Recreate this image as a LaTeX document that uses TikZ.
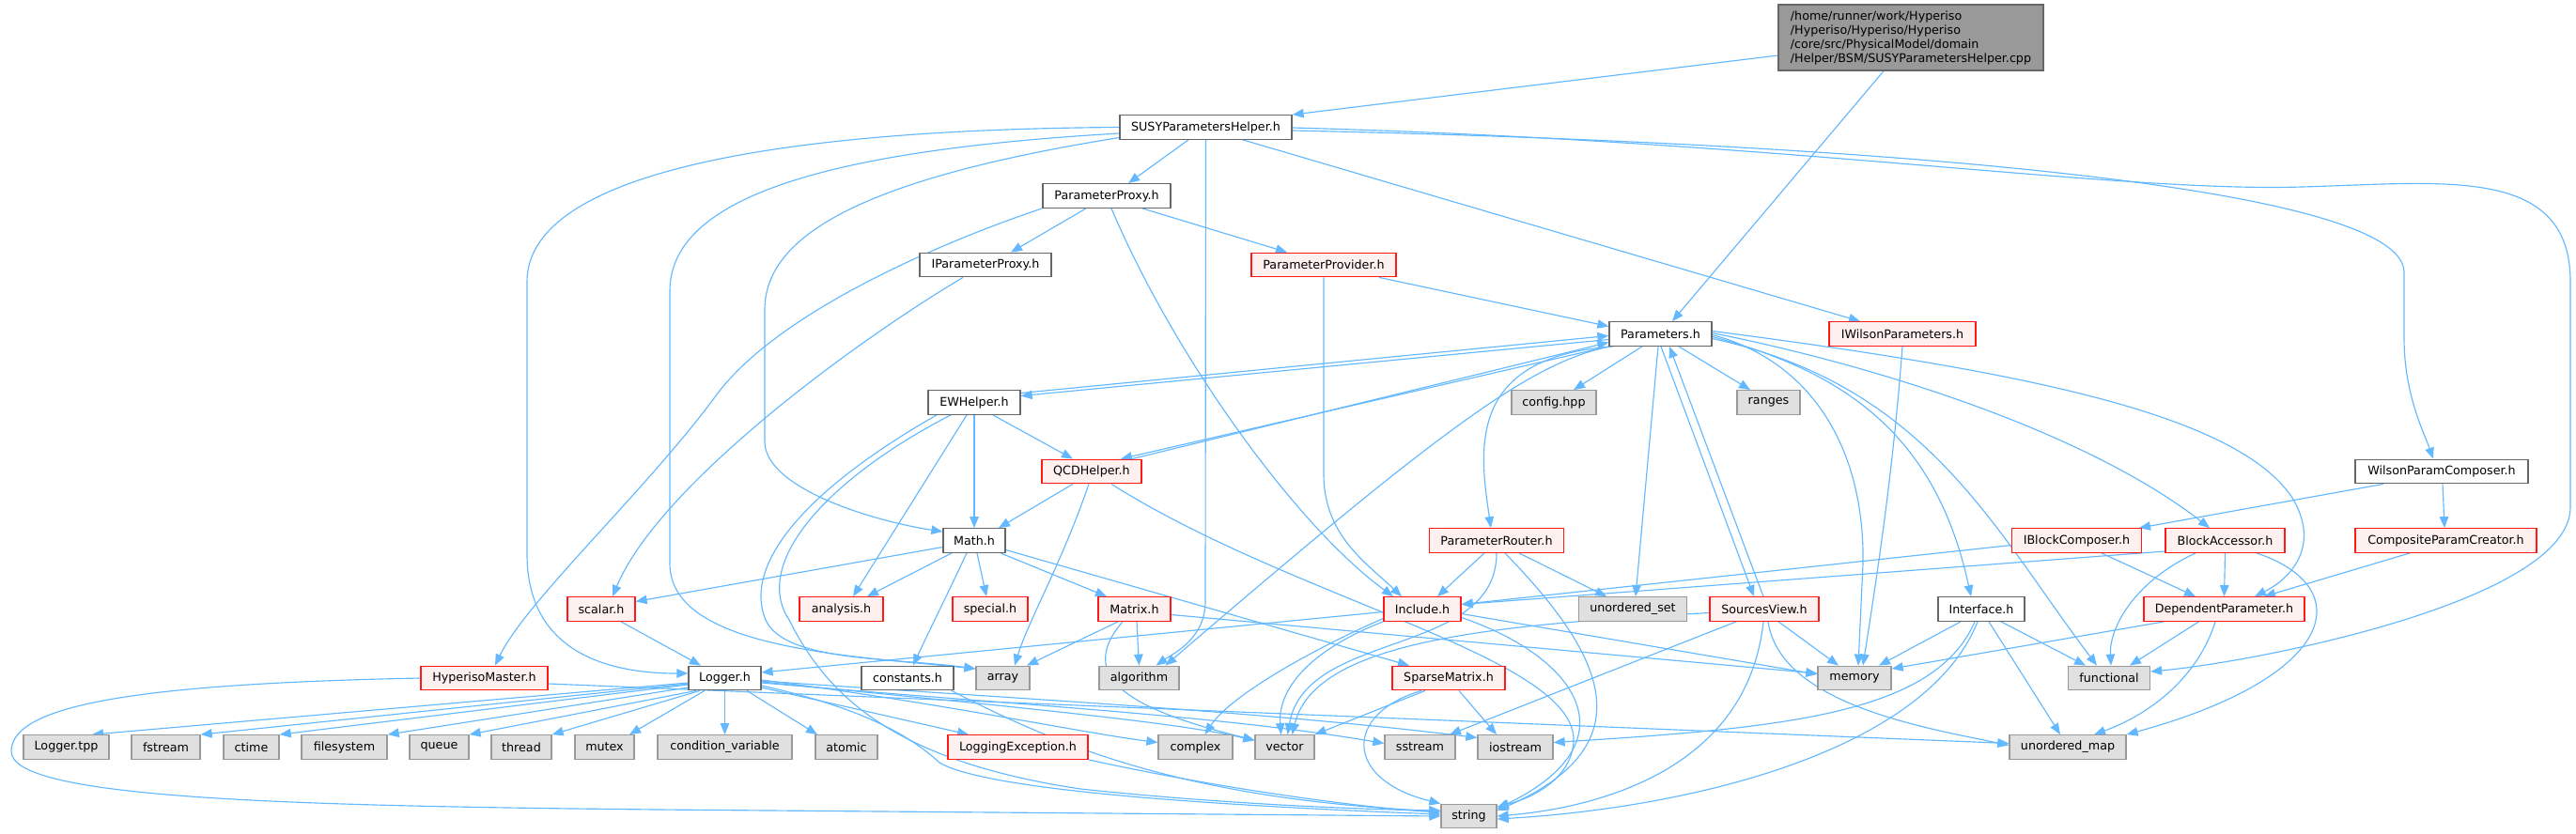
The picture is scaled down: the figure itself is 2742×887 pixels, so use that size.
\documentclass[tikz,border=0pt]{standalone}
\usepackage{fontspec}
\setmainfont{DejaVu Sans}
\usetikzlibrary{arrows.meta,backgrounds}
\definecolor{edgec}{HTML}{63B8FF}
\definecolor{ndraw}{HTML}{666666}
\definecolor{xdraw}{HTML}{999999}
\definecolor{xfill}{HTML}{E0E0E0}
\definecolor{rfill}{HTML}{FFF0F0}
\definecolor{rdraw}{HTML}{FF1A1A}
\definecolor{rootfill}{HTML}{999999}
\tikzset{
  base/.style={draw, line width=1.3pt, minimum height=25.5pt, inner sep=0pt, text=black,
    font=\fontsize{12.7pt}{15pt}\selectfont},
  nd/.style={base, fill=white, draw=ndraw},
  rd/.style={base, fill=rfill, draw=rdraw},
  ex/.style={base, fill=xfill, draw=xdraw},
  rootnode/.style={base, fill=rootfill, draw=ndraw},
  e/.style={draw=edgec, line width=1.15pt, -{Triangle[length=12pt,width=9.5pt]}}
}
\begin{document}
\begin{tikzpicture}[x=1pt,y=-1pt]
\useasboundingbox (0,0) rectangle (2742,887);
% nodes
\node[rootnode, minimum width=282pt, minimum height=70pt, align=left] (root) at (2034,40)
  {/home/runner/work/Hyperiso\\/Hyperiso/Hyperiso/Hyperiso\\/core/src/PhysicalModel/domain\\/Helper/BSM/SUSYParametersHelper.cpp};
\node[nd, minimum width=183pt] (susy) at (1283.5,135.5) {SUSYParametersHelper.h};
\node[nd, minimum width=136pt] (pproxy) at (1178,208.5) {ParameterProxy.h};
\node[nd, minimum width=140pt] (ipproxy) at (1049,282) {IParameterProxy.h};
\node[rd, minimum width=154pt] (pprov) at (1409,282) {ParameterProvider.h};
\node[nd, minimum width=109pt] (params) at (1767.5,355.5) {Parameters.h};
\node[rd, minimum width=156pt] (iwil) at (2025,355.5) {IWilsonParameters.h};
\node[ex, minimum width=90pt] (config) at (1654,428.5) {config.hpp};
\node[ex, minimum width=67pt] (ranges) at (1882.5,428.5) {ranges};
\node[nd, minimum width=98pt] (ewh) at (1037,428.5) {EWHelper.h};
\node[rd, minimum width=106pt] (qcd) at (1162,502) {QCDHelper.h};
\node[nd, minimum width=184pt] (wpc) at (2599,502) {WilsonParamComposer.h};
\node[nd, minimum width=66pt] (math) at (1037,575.5) {Math.h};
\node[rd, minimum width=143pt] (prouter) at (1593,575.5) {ParameterRouter.h};
\node[rd, minimum width=138pt] (ibc) at (2210.5,575.5) {IBlockComposer.h};
\node[rd, minimum width=127pt] (bacc) at (2368.5,575.5) {BlockAccessor.h};
\node[rd, minimum width=193pt] (cpc) at (2603.5,575.5) {CompositeParamCreator.h};
\node[rd, minimum width=72pt] (scalar) at (640,648.5) {scalar.h};
\node[rd, minimum width=89pt] (analysis) at (895.5,648.5) {analysis.h};
\node[rd, minimum width=80pt] (special) at (1054,648.5) {special.h};
\node[rd, minimum width=77pt] (matrix) at (1207.5,648.5) {Matrix.h};
\node[rd, minimum width=82pt] (incl) at (1514,648.5) {Include.h};
\node[ex, minimum width=115pt] (uset) at (1738,648.5) {unordered\_set};
\node[rd, minimum width=116pt] (srcv) at (1878,648.5) {SourcesView.h};
\node[nd, minimum width=92pt] (iface) at (2109,648.5) {Interface.h};
\node[rd, minimum width=171pt] (dep) at (2367.5,648.5) {DependentParameter.h};
\node[rd, minimum width=135pt] (hmaster) at (515.5,722) {HyperisoMaster.h};
\node[nd, minimum width=77pt] (logger) at (771.5,722) {Logger.h};
\node[nd, minimum width=98pt] (consts) at (966,722) {constants.h};
\node[ex, minimum width=57pt] (array) at (1067.5,722) {array};
\node[ex, minimum width=85pt] (algo) at (1212.5,722) {algorithm};
\node[rd, minimum width=120pt] (sparse) at (1542,722) {SparseMatrix.h};
\node[ex, minimum width=78pt] (memory) at (1974,722) {memory};
\node[ex, minimum width=87pt] (functional) at (2245,722) {functional};
\node[ex, minimum width=91pt] (ltpp) at (70.5,795.5) {Logger.tpp};
\node[ex, minimum width=73pt] (fstream) at (176.5,795.5) {fstream};
\node[ex, minimum width=59pt] (ctime) at (267.5,795.5) {ctime};
\node[ex, minimum width=91pt] (fsys) at (366.5,795.5) {filesystem};
\node[ex, minimum width=63pt] (queue) at (467.5,795.5) {queue};
\node[ex, minimum width=64pt] (thread) at (555,795.5) {thread};
\node[ex, minimum width=63pt] (mutex) at (643.5,795.5) {mutex};
\node[ex, minimum width=143pt] (condvar) at (771.5,795.5) {condition\_variable};
\node[ex, minimum width=66pt] (atomic) at (901,795.5) {atomic};
\node[rd, minimum width=149pt] (logexc) at (1083.5,795.5) {LoggingException.h};
\node[ex, minimum width=79pt] (complex) at (1272.5,795.5) {complex};
\node[ex, minimum width=63pt] (vector) at (1367.5,795.5) {vector};
\node[ex, minimum width=75pt] (sstream) at (1511.5,795.5) {sstream};
\node[ex, minimum width=80pt] (iostream) at (1613,795.5) {iostream};
\node[ex, minimum width=124pt] (umap) at (2201,795.5) {unordered\_map};
\node[ex, minimum width=59pt] (string) at (1563.5,869) {string};
% edges
\begin{pgfonlayer}{background}
\draw[e] ([yshift=-19pt]root.west) -- (susy.north east);
\draw[e] ([xshift=-29pt]root.south) -- ([xshift=12.5pt]params.north);
% susy
\draw[e] ([xshift=-18.5pt]susy.south) -- ([xshift=23pt]pproxy.north);
\draw[e] (susy.west) .. controls (800,138) and (561,190) .. (561,300) -- (561,590) .. controls (561,690) and (640,717) .. ([yshift=5pt]logger.west);
\draw[e] ([yshift=-6.5pt]susy.west) .. controls (880,160) and (713,210) .. (713,310) -- (713,600) .. controls (713,690) and (900,698) .. ([yshift=10pt]array.west);
\draw[e] ([yshift=-11pt]susy.west) .. controls (920,190) and (814,250) .. (814,330) -- (814,470) .. controls (814,520) and (930,555) .. ([yshift=9.5pt]math.west);
\draw[e] (susy.south) -- (1283,640) .. controls (1283,680) and (1250,695) .. ([xshift=18pt]algo.north);
\draw[e] ([xshift=39.5pt]susy.south) -- ([xshift=-45pt]iwil.north);
\draw[e] ([yshift=-3.5pt]susy.east) .. controls (1900,150) and (2559,190) .. (2559,290) -- (2559,360) .. controls (2559,420) and (2580,460) .. ([xshift=-9pt]wpc.north);
\draw[e] ([yshift=-0.5pt]susy.east) .. controls (1900,150) and (2250,205) .. (2450,199) .. controls (2600,195) and (2736,175) .. (2736,300) -- (2736,540) .. controls (2736,640) and (2400,705) .. ([yshift=7pt]functional.east);
% pproxy
\draw[e] (pproxy.south west) .. controls (1010,255) and (830,330) .. (763,420) .. controls (690,520) and (560,640) .. ([xshift=11.5pt]hmaster.north);
\draw[e] ([xshift=-22pt]pproxy.south) -- ([xshift=27pt]ipproxy.north);
\draw[e] ([xshift=38pt]pproxy.south) -- ([xshift=-39pt]pprov.north);
\draw[e] ([xshift=5pt]pproxy.south) .. controls (1250,380) and (1380,560) .. ([xshift=-31pt]incl.north);
\draw[e] ([xshift=-24pt]ipproxy.south) .. controls (900,370) and (700,520) .. ([xshift=12pt]scalar.north);
\draw[e] ([xshift=59pt]pprov.south) -- ([yshift=8pt]params.west);
\draw[e] (pprov.south) -- (1409,505) .. controls (1409,570) and (1455,600) .. ([xshift=-22pt]incl.north);
% params
\draw[e] ([yshift=-6pt]params.west) -- ([yshift=7pt]ewh.east);
\draw[e] ([yshift=10pt]ewh.east) -- ([yshift=-2pt]params.west);
\draw[e] (params.south west) -- ([xshift=31pt]qcd.north);
\draw[e] ([xshift=43pt]qcd.north) -- ([yshift=-9pt]params.west);
\draw[e] ([xshift=-19.5pt]params.south) -- ([xshift=21pt]config.north);
\draw[e] ([xshift=19.5pt]params.south) -- ([xshift=-19.5pt]ranges.north);
\draw[e] ([xshift=5pt]params.south west) .. controls (1560,380) and (1575,480) .. ([xshift=-6pt]prouter.north);
\draw[e] ([xshift=2pt]params.south west) .. controls (1630,385) and (1530,460) .. ([xshift=28pt]algo.north);
\draw[e] ([xshift=-2.5pt]params.south) -- ([xshift=3pt]uset.north);
\draw[e] ([xshift=0.5pt]params.south) -- ([xshift=-11pt]srcv.north);
\draw[e] ([xshift=-1pt]srcv.north) -- ([xshift=9.5pt]params.south);
\draw[e] ([yshift=-1pt]params.east) .. controls (1930,385) and (1985,480) .. (1983,600) -- ([xshift=4pt]memory.north);
\draw[e] ([yshift=-3pt]params.east) .. controls (1960,395) and (2060,460) .. ([xshift=-11pt]iface.north);
\draw[e] ([yshift=-5pt]params.east) .. controls (2050,410) and (2120,560) .. ([xshift=-13pt]functional.north);
\draw[e] ([yshift=1pt]params.east) .. controls (2000,390) and (2220,460) .. ([xshift=-16.5pt]bacc.north);
\draw[e] ([yshift=3pt]params.east) .. controls (2150,395) and (2380,440) .. (2440,530) .. controls (2470,580) and (2440,615) .. ([xshift=32.5pt]dep.north);
\draw[e] (iwil.south) .. controls (2015,500) and (2000,600) .. ([xshift=9pt]memory.north);
% ewh
\draw[e] ([xshift=20pt]ewh.south) -- ([xshift=-20pt]qcd.north);
\draw[e] (ewh.south) -- (math.north);
\draw[e] ([xshift=-8pt]ewh.south) -- ([xshift=12.5pt]analysis.north);
\draw[e] ([xshift=-40pt]ewh.south) .. controls (860,520) and (790,600) .. (815,660) .. controls (835,705) and (950,700) .. ([yshift=10pt]array.west);
\draw[e] ([xshift=-25pt]ewh.south) .. controls (880,510) and (800,600) .. (840,660) .. controls (880,740) and (950,810) .. (1150,840) .. controls (1300,856) and (1450,862) .. ([yshift=6pt]string.west);
% qcd
\draw[e] ([xshift=-20pt]qcd.south) -- ([xshift=26pt]math.north);
\draw[e] ([xshift=-3pt]qcd.south) .. controls (1130,600) and (1095,660) .. ([xshift=12.5pt]array.north);
\draw[e] ([xshift=21pt]qcd.south) .. controls (1380,640) and (1680,700) .. (1675,790) .. controls (1672,830) and (1630,850) .. ([yshift=10pt]string.east);
% math
\draw[e] ([yshift=-7pt]math.west) -- ([yshift=8pt]scalar.east);
\draw[e] ([xshift=-24pt]math.south) -- ([xshift=27.5pt]analysis.north);
\draw[e] ([xshift=3pt]math.south) -- ([xshift=-4pt]special.north);
\draw[e] ([xshift=28pt]math.south) -- ([xshift=-29.5pt]matrix.north);
\draw[e] ([xshift=-8pt]math.south) .. controls (1005,640) and (985,680) .. ([xshift=6pt]consts.north);
\draw[e] ([yshift=-10pt]math.east) -- ([xshift=-42pt]sparse.north);
% matrix
\draw[e] ([xshift=-17.5pt]matrix.south) -- ([xshift=25.5pt]array.north);
\draw[e] ([xshift=2.5pt]matrix.south) -- (algo.north);
\draw[e] ([xshift=-12.5pt]matrix.south) .. controls (1145,720) and (1200,755) .. ([yshift=7.5pt]vector.west);
\draw[e] ([yshift=-6pt]matrix.east) -- ([yshift=5pt]memory.west);
% scalar, hmaster
\draw[e] ([xshift=21pt]scalar.south) -- ([xshift=-25.5pt]logger.north);
\draw[e] (hmaster.west) .. controls (150,728) and (12,750) .. (12,800) .. controls (12,850) and (300,858) .. (700,862) -- (string.west);
\draw[e] ([yshift=-6pt]hmaster.east) -- ([yshift=4pt]umap.west);
% logger
\draw[e] ([yshift=-5pt]logger.west) -- ([xshift=27.5pt]ltpp.north);
\draw[e] ([yshift=-6pt]logger.west) -- (fstream.north east);
\draw[e] ([yshift=-7pt]logger.west) -- (ctime.north east);
\draw[e] ([yshift=-10pt]logger.west) -- (fsys.north east);
\draw[e] ([xshift=-30.5pt]logger.south) -- (queue.north east);
\draw[e] ([xshift=-26.5pt]logger.south) -- (thread.north east);
\draw[e] ([xshift=-21.5pt]logger.south) -- ([xshift=26.5pt]mutex.north);
\draw[e] (logger.south) -- (condvar.north);
\draw[e] ([xshift=23.5pt]logger.south) -- ([xshift=-31pt]atomic.north);
\draw[e] ([yshift=-10pt]logger.east) -- ([xshift=-52.5pt]logexc.north);
\draw[e] ([yshift=-2pt]logger.east) .. controls (1000,748) and (1150,780) .. ([yshift=5pt]complex.west);
\draw[e] ([yshift=-4pt]logger.east) .. controls (1050,750) and (1250,768) .. ([yshift=7pt]vector.west);
\draw[e] ([yshift=-5pt]logger.east) .. controls (1100,752) and (1300,762) .. ([yshift=4pt]sstream.west);
\draw[e] ([yshift=-3pt]logger.east) .. controls (1100,745) and (1350,758) .. ([yshift=10pt]iostream.west);
\draw[e] ([yshift=-8pt]logger.east) .. controls (900,750) and (960,775) .. (1000,812) .. controls (1050,842) and (1300,858) .. ([yshift=2pt]string.west);
\draw[e] (logexc.south east) .. controls (1300,840) and (1450,860) .. ([yshift=4pt]string.west);
\draw[e] ([xshift=-3pt]consts.south east) .. controls (1120,790) and (1250,850) .. ([yshift=5pt]string.west);
% include
\draw[e] ([yshift=-3pt]incl.west) -- ([yshift=6pt]logger.east);
\draw[e] ([yshift=-10pt]incl.west) .. controls (1400,690) and (1310,740) .. ([xshift=10pt]complex.north);
\draw[e] (incl.south west) .. controls (1400,690) and (1360,730) .. ([xshift=-4pt]vector.north);
\draw[e] ([yshift=-5pt]incl.east) -- ([yshift=4pt]memory.west);
\draw[e] ([yshift=-9pt]incl.east) .. controls (1680,700) and (1740,790) .. ([yshift=8pt]string.east);
% prouter
\draw[e] ([xshift=-13pt]prouter.south) -- ([xshift=16pt]incl.north);
\draw[e] ([xshift=24pt]prouter.south) -- ([xshift=-28pt]uset.north);
\draw[e] ([xshift=9pt]prouter.south) .. controls (1700,690) and (1760,790) .. ([yshift=6pt]string.east);
\draw[e] (prouter.south) .. controls (1593,700) and (1390,670) .. ([xshift=3pt]vector.north);
% srcv
\draw[e] ([yshift=-4pt]srcv.west) .. controls (1600,665) and (1400,680) .. ([xshift=8pt]vector.north);
\draw[e] ([xshift=-30pt]srcv.south) -- ([xshift=31.5pt]sstream.north);
\draw[e] ([xshift=15pt]srcv.south) -- ([xshift=-17pt]memory.north);
\draw[e] ([xshift=4pt]srcv.south) .. controls (1895,750) and (2050,775) .. ([yshift=2pt]umap.west);
\draw[e] ([xshift=-1pt]srcv.south) .. controls (1860,820) and (1700,860) .. (string.east);
% iface
\draw[e] ([xshift=-22pt]iface.south) -- ([xshift=26pt]memory.north);
\draw[e] ([xshift=21pt]iface.south) -- ([xshift=-25pt]functional.north);
\draw[e] ([xshift=8pt]iface.south) -- ([xshift=-8pt]umap.north);
\draw[e] ([xshift=-7pt]iface.south) .. controls (2060,760) and (1900,775) .. ([yshift=5pt]iostream.east);
\draw[e] ([xshift=-4pt]iface.south) .. controls (2050,800) and (1800,860) .. ([yshift=-3pt]string.east);
% dep
\draw[e] ([xshift=-64pt]dep.south) -- ([yshift=10pt]memory.east);
\draw[e] ([xshift=-27pt]dep.south) -- ([xshift=22pt]functional.north);
\draw[e] ([xshift=-9.5pt]dep.south) .. controls (2340,720) and (2290,760) .. ([xshift=28pt]umap.north);
% bacc, ibc, cpc, wpc
\draw[e] ([yshift=-11.5pt]bacc.west) -- ([yshift=5pt]incl.east);
\draw[e] ([yshift=-5pt]ibc.west) -- ([yshift=5pt]incl.east);
\draw[e] (bacc.south) -- (dep.north);
\draw[e] ([xshift=-31.5pt]bacc.south) .. controls (2270,620) and (2245,670) .. ([xshift=2pt]functional.north);
\draw[e] ([xshift=33.5pt]bacc.south) .. controls (2510,625) and (2490,720) .. (umap.north east);
\draw[e] ([xshift=26.5pt]ibc.south) -- ([xshift=-30.5pt]dep.north);
\draw[e] ([xshift=-38.5pt]cpc.south) -- ([xshift=42.5pt]dep.north);
\draw[e] ([xshift=-62pt]wpc.south) -- ([xshift=66.5pt]ibc.north);
\draw[e] ([xshift=1pt]wpc.south) -- ([xshift=-1.5pt]cpc.north);
% sparse
\draw[e] ([xshift=-25pt]sparse.south) -- (vector.north east);
\draw[e] ([xshift=11pt]sparse.south) -- ([xshift=-20pt]iostream.north);
\draw[e] ([xshift=-29pt]sparse.south) .. controls (1430,760) and (1430,830) .. (string.north west);
\end{pgfonlayer}
\end{tikzpicture}
\end{document}
